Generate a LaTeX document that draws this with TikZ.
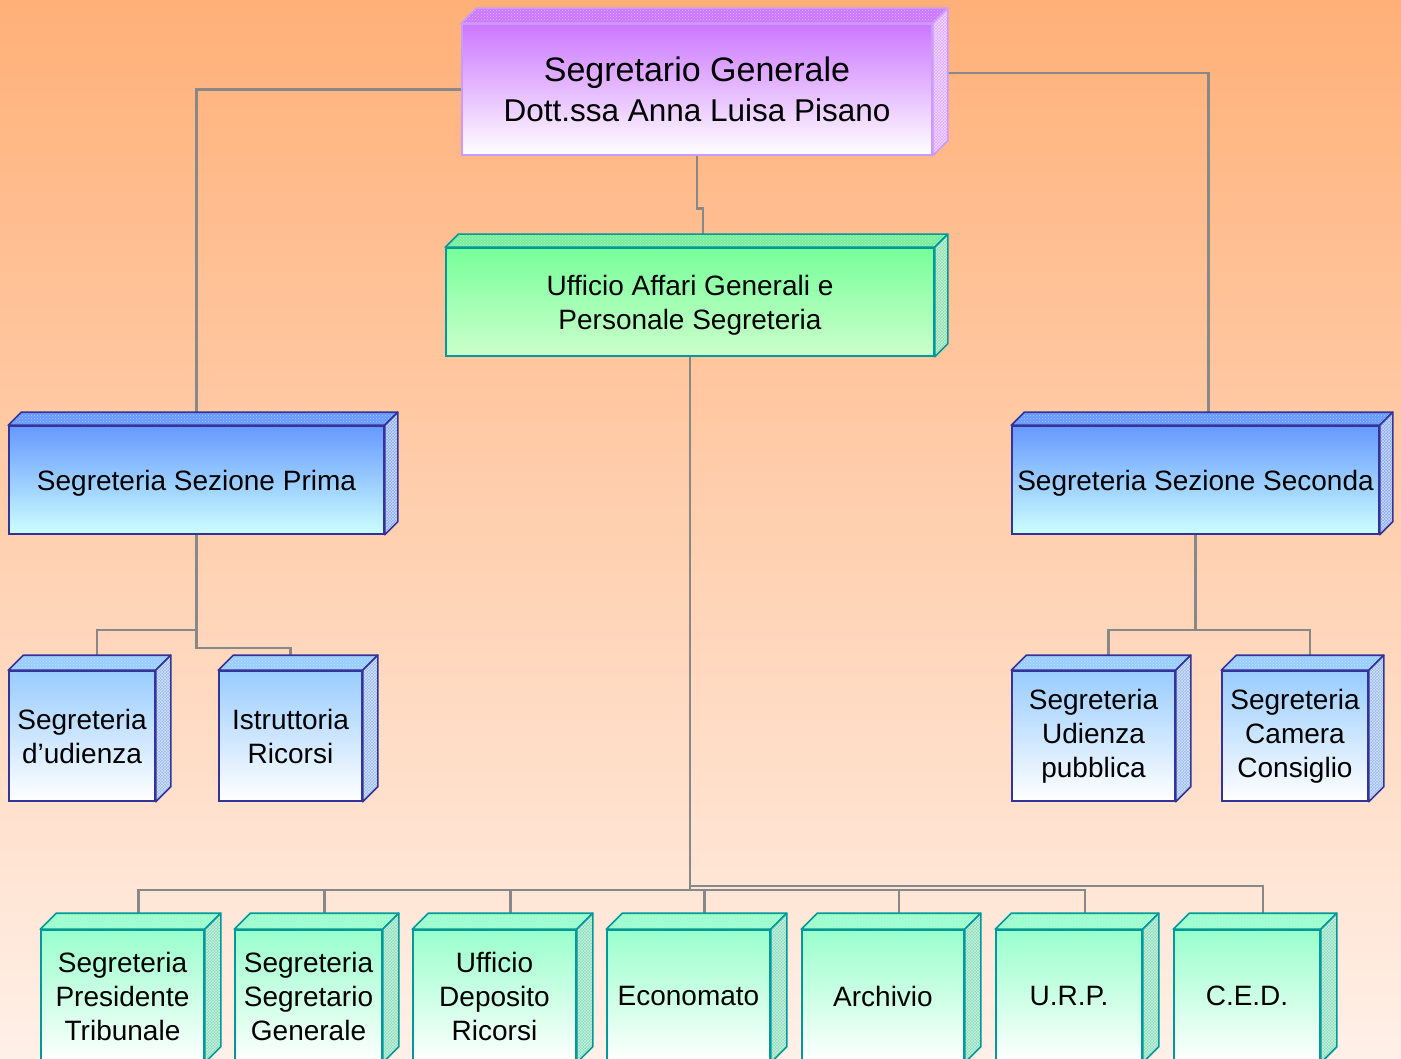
\documentclass[tikz,border=0pt]{standalone}
\usepackage{fontspec}
\setmainfont{Liberation Sans}
\usepackage{xcolor}
\usetikzlibrary{positioning}
\usetikzlibrary{patterns}

\definecolor{bgtop}{HTML}{FFB078}
\definecolor{bgbottom}{HTML}{FFF0E8}
\definecolor{linkgray}{HTML}{888888}
\definecolor{purpletop}{HTML}{CC77FF}
\definecolor{purpleside}{HTML}{DDAAFF}
\definecolor{purpleline}{HTML}{CC99FF}
\definecolor{greentop}{HTML}{77FF99}
\definecolor{greenbottom}{HTML}{CCFFCC}
\definecolor{greenface}{HTML}{77EE99}
\definecolor{greenside}{HTML}{88DDAA}
\definecolor{tealline}{HTML}{009999}
\definecolor{bluetop}{HTML}{6699FF}
\definecolor{bluebottom}{HTML}{CCFFFF}
\definecolor{blueside}{HTML}{88AAEE}
\definecolor{navyline}{HTML}{333399}
\definecolor{skytop}{HTML}{99CCFF}
\definecolor{skyside}{HTML}{99BBEE}
\definecolor{minttop}{HTML}{99FFCC}
\definecolor{mintside}{HTML}{88DDBB}

\pgfdeclarelayer{back}
\pgfsetlayers{back,main}

\newcommand{\cubefaces}[5]{%
  \draw[draw=#5, line width=1.6pt, line join=round, preaction={fill=#3}, pattern=crosshatch dots, pattern color=white!45!#3]
    (#1.north west) -- ++(#2,-#2) -- ([shift={(#2,-#2)}]#1.north east) -- (#1.north east) -- cycle;
  \draw[draw=#5, line width=1.6pt, line join=round, preaction={fill=#4}, pattern=crosshatch, pattern color=white!55!#4]
    (#1.north east) -- ++(#2,-#2) -- ([shift={(#2,-#2)}]#1.south east) -- (#1.south east) -- cycle;
  \coordinate (#1-top) at ([shift={(#2,-#2)}]#1.north);
}

\begin{document}
\begin{tikzpicture}[x=1pt, y=-1pt,
				unit/.style={rectangle, draw, line width=1.6pt, inner sep=0pt, align=center, font=\fontsize{28}{34}\selectfont},
				headbox/.style={unit, draw=purpleline, top color=purpletop, bottom color=white, minimum width=470, minimum height=131, font=\fontsize{34}{40}\selectfont},
				greenbox/.style={unit, draw=tealline, top color=greentop, bottom color=greenbottom, minimum height=108, text depth=0pt},
				bluebox/.style={unit, draw=navyline, top color=bluetop, bottom color=bluebottom, minimum height=108, text depth=0pt},
				subbox/.style={unit, draw=navyline, top color=skytop, bottom color=white, minimum height=130},
				officebox/.style={unit, draw=tealline, top color=minttop, bottom color=white, minimum height=132},
				link/.style={draw=linkgray, line width=2.6pt}
			]

			\useasboundingbox (0,0) rectangle (1401,1059);

			\node[headbox] (segretario) at (697,89.5) {Segretario Generale\\{\fontsize{31.5}{40}\selectfont Dott.ssa Anna Luisa Pisano}};
			\node[greenbox, minimum width=488] (affari) at (690,302) {Ufficio Affari Generali e\\Personale Segreteria};
			\node[bluebox, minimum width=375] (prima) at (196.5,480) {Segreteria Sezione Prima};
			\node[bluebox, minimum width=367] (seconda) at (1195.5,480) {Segreteria Sezione Seconda};
			\node[subbox, minimum width=146] (udienza) at (82,736) {Segreteria\\d’udienza};
			\node[subbox, minimum width=143] (istruttoria) at (290.5,736) {Istruttoria\\Ricorsi};
			\node[subbox, minimum width=163] (pubblica) at (1093.5,736) {Segreteria\\Udienza\\pubblica};
			\node[subbox, minimum width=146] (camera) at (1295,736) {Segreteria\\Camera\\Consiglio};
			\node[officebox, minimum width=163] (presidente) at (122.5,996) {Segreteria\\Presidente\\Tribunale};
			\node[officebox, minimum width=147] (segsg) at (308.5,996) {Segreteria\\Segretario\\Generale};
			\node[officebox, minimum width=163] (deposito) at (494.5,996) {Ufficio\\Deposito\\Ricorsi};
			\node[officebox, minimum width=163] (economato) at (688.5,996) {Economato};
			\node[officebox, minimum width=162] (archivio) at (883,996) {Archivio};
			\node[officebox, minimum width=146] (urp) at (1069,996) {U.R.P.};
			\node[officebox, minimum width=146] (ced) at (1247,996) {C.E.D.};

			\foreach \n/\d/\t/\s/\b in {segretario/15/purpletop/purpleside/purpleline,
				affari/13/greenface/greenside/tealline, prima/13/bluetop/blueside/navyline,
				seconda/13/bluetop/blueside/navyline, udienza/15/skytop/skyside/navyline,
				istruttoria/15/skytop/skyside/navyline, pubblica/15/skytop/skyside/navyline,
				camera/15/skytop/skyside/navyline, presidente/16/minttop/mintside/tealline,
				segsg/16/minttop/mintside/tealline, deposito/16/minttop/mintside/tealline,
				economato/16/minttop/mintside/tealline, archivio/16/minttop/mintside/tealline,
				urp/16/minttop/mintside/tealline, ced/16/minttop/mintside/tealline}
				\cubefaces{\n}{\d}{\t}{\s}{\b};

			\begin{pgfonlayer}{back}
				\shade[top color=bgtop, bottom color=bgbottom] (0,0) rectangle (1401,1059);

				\draw[link] (segretario.west) -| (prima.north);
				\draw[link] ([yshift=16.5]segretario.east) -| (seconda-top);
				\draw[link] (segretario.south) -- ++(0,53) -| (affari-top);

				\draw[link] (prima.south) -- ++(0,95) -| (udienza-top);
				\draw[link] (prima.south) -- ++(0,113) -| (istruttoria.north);
				\draw[link] (seconda.south) -- ++(0,95) coordinate (fork);
				\draw[link] (pubblica-top) |- (fork) -| (camera-top);

				\draw[link] (affari.south) -- ++(0,533) coordinate (bus);
				\draw[link] (presidente-top) |- (bus) -| (urp-top);
				\foreach \n in {segsg, deposito, economato, archivio}
					\draw[link] (\n-top) -- (\n-top |- bus);
				\draw[link] ([yshift=4]bus) -| (ced-top);
			\end{pgfonlayer}

		\end{tikzpicture}
\end{document}
